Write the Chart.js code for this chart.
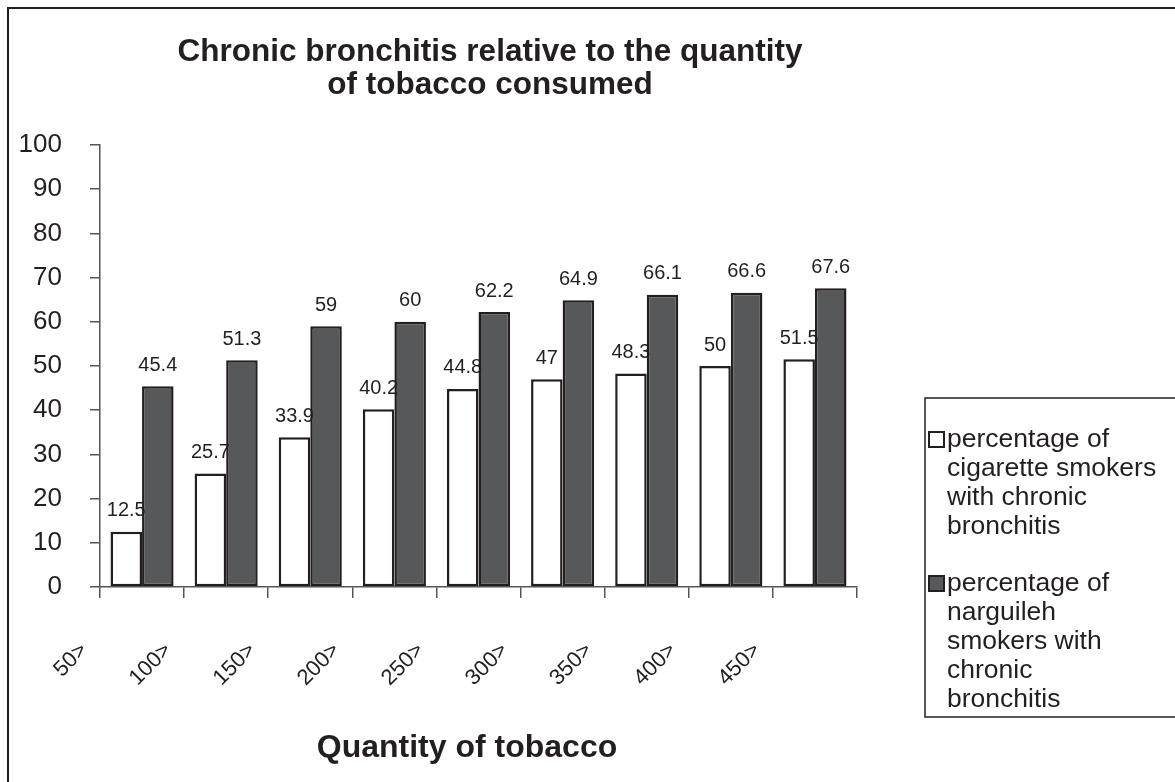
<!DOCTYPE html>
<html>
<head>
<meta charset="utf-8">
<script src="https://cdn.jsdelivr.net/npm/chart.js@4.4.1/dist/chart.umd.min.js"></script>
<style>
  body { margin: 0; background: #fff; overflow: hidden; }
  #wrap { position: relative; width: 1175px; height: 782px; }
</style>
</head>
<body>
<div id="wrap"><canvas id="bronchitisChart"></canvas></div>
<script>
const categories = ["50>", "100>", "150>", "200>", "250>", "300>", "350>", "400>", "450>"];
const cigaretteValues = [12.5, 25.7, 33.9, 40.2, 44.8, 47, 48.3, 50, 51.5];
const narguilehValues = [45.4, 51.3, 59, 60, 62.2, 64.9, 66.1, 66.6, 67.6];
const titleLines = ["Chronic bronchitis relative to the quantity", "of tobacco consumed"];
const xAxisTitle = "Quantity of tobacco";
const cigaretteLegend = ["percentage of", "cigarette smokers", "with chronic", "bronchitis"];
const narguilehLegend = ["percentage of", "narguileh", "smokers with", "chronic", "bronchitis"];

const FONT = "'Liberation Sans', Arial, sans-serif";
const INK = "#231f20";
const AXIS = "#555555";

// frame, titles, rotated category labels, value labels and legend box
const decorations = {
  id: "decorations",
  beforeDraw(chart) {
    const ctx = chart.ctx;
    ctx.save();
    ctx.strokeStyle = INK;
    ctx.lineWidth = 2;
    ctx.beginPath();
    ctx.moveTo(8, 790);
    ctx.lineTo(8, 8);
    ctx.lineTo(1180, 8);
    ctx.stroke();

    ctx.fillStyle = INK;
    ctx.textAlign = "center";
    ctx.textBaseline = "middle";
    ctx.font = "bold 31.5px " + FONT;
    titleLines.forEach((line, i) => ctx.fillText(line, 490, 52 + i * 33));
    ctx.restore();
  },
  afterDatasetsDraw(chart) {
    const ctx = chart.ctx;
    ctx.save();
    ctx.fillStyle = INK;

    // value labels above bars
    ctx.font = "20px " + FONT;
    ctx.textAlign = "center";
    ctx.textBaseline = "middle";
    chart.data.datasets.forEach((ds, d) => {
      chart.getDatasetMeta(d).data.forEach((bar, i) => {
        ctx.fillText(String(ds.data[i]), bar.x, bar.y - 21);
      });
    });

    // rotated category labels
    const xScale = chart.scales.x;
    ctx.font = "22px " + FONT;
    ctx.textAlign = "right";
    categories.forEach((label, i) => {
      const cx = xScale.getPixelForValue(i);
      ctx.save();
      ctx.translate(cx - 58, xScale.top + 60);
      ctx.rotate(-Math.PI / 4);
      ctx.fillText(label, 0, 0);
      ctx.restore();
    });

    // x axis title
    ctx.font = "bold 32px " + FONT;
    ctx.textAlign = "center";
    ctx.fillText(xAxisTitle, 467, 748);

    // legend box
    ctx.lineWidth = 1.5;
    ctx.strokeStyle = INK;
    ctx.strokeRect(925, 398, 300, 319);
    ctx.font = "26.5px " + FONT;
    ctx.textAlign = "left";
    const groups = [cigaretteLegend, narguilehLegend];
    let y = 440;
    groups.forEach((lines, g) => {
      const ds = chart.data.datasets[g];
      ctx.fillStyle = ds.backgroundColor;
      ctx.lineWidth = 2;
      ctx.fillRect(929, y - 8, 15, 15);
      ctx.strokeRect(929, y - 8, 15, 15);
      ctx.fillStyle = INK;
      lines.forEach((line) => {
        ctx.fillText(line, 947, y);
        y += 29;
      });
      y += 28;
    });
    ctx.restore();
  },
};

new Chart(document.getElementById("bronchitisChart"), {
  type: "bar",
  data: {
    labels: categories,
    datasets: [
      {
        label: "percentage of cigarette smokers with chronic bronchitis",
        data: cigaretteValues,
        backgroundColor: "#ffffff",
        borderColor: INK,
        borderWidth: 2.5,
        borderSkipped: false,
      },
      {
        label: "percentage of narguileh smokers with chronic bronchitis",
        data: narguilehValues,
        backgroundColor: "#575859",
        borderColor: INK,
        borderWidth: 2.5,
        borderSkipped: false,
      },
    ],
  },
  options: {
    responsive: true,
    maintainAspectRatio: false,
    animation: false,
    categoryPercentage: 0.75,
    barPercentage: 1.0,
    layout: { padding: { left: 0, top: 145, right: 318, bottom: 0 } },
    plugins: {
      legend: { display: false },
      title: { display: false },
      tooltip: { enabled: false },
    },
    scales: {
      x: {
        afterFit: (scale) => { scale.height = 195; },
        grid: { drawOnChartArea: false, tickLength: 11, color: AXIS, lineWidth: 1.5 },
        border: { color: AXIS, width: 1.5 },
        ticks: { display: false },
      },
      y: {
        min: 0,
        max: 100,
        afterFit: (scale) => { scale.width = 100; },
        grid: { drawOnChartArea: false, tickLength: 10, color: AXIS, lineWidth: 1.5 },
        border: { color: AXIS, width: 1.5 },
        ticks: {
          stepSize: 10,
          padding: 28,
          color: INK,
          font: { family: FONT, size: 26 },
        },
      },
    },
  },
  plugins: [decorations],
});
</script>
</body>
</html>
